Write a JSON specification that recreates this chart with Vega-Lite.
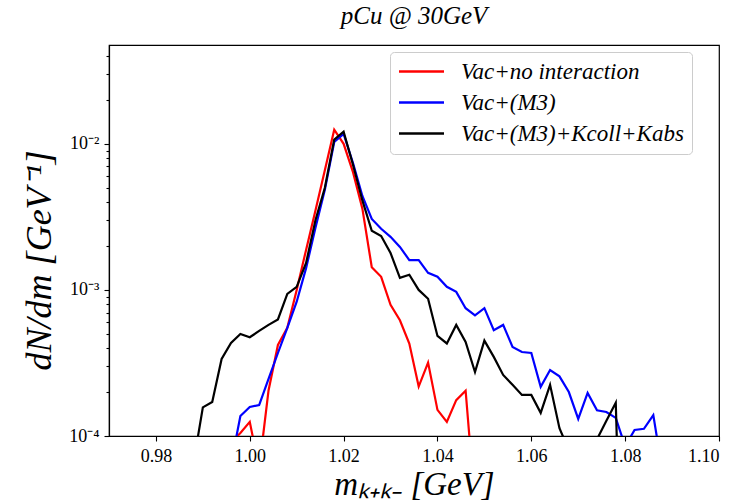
{
  "$schema": "https://vega.github.io/schema/vega-lite/v6.json",
  "width": 610,
  "height": 391,
  "autosize": {"type": "none"},
  "padding": {"left": 109, "top": 45, "right": 17, "bottom": 66},
  "background": "white",
  "title": {"text": "pCu @ 30GeV", "font": "Liberation Serif", "fontStyle": "italic", "fontWeight": "normal", "fontSize": 25, "color": "black", "anchor": "middle", "frame": "group", "baseline": "bottom", "offset": -9},
  "data": {"values": [
    {"m": 0.996, "v": 0.00009, "s": "Vac+no interaction"},
    {"m": 0.998, "v": 0.000105, "s": "Vac+no interaction"},
    {"m": 1.000, "v": 0.000125, "s": "Vac+no interaction"},
    {"m": 1.002, "v": 0.00006, "s": "Vac+no interaction"},
    {"m": 1.004, "v": 0.000205, "s": "Vac+no interaction"},
    {"m": 1.006, "v": 0.00042, "s": "Vac+no interaction"},
    {"m": 1.008, "v": 0.00055, "s": "Vac+no interaction"},
    {"m": 1.010, "v": 0.0010, "s": "Vac+no interaction"},
    {"m": 1.012, "v": 0.00188, "s": "Vac+no interaction"},
    {"m": 1.014, "v": 0.0035, "s": "Vac+no interaction"},
    {"m": 1.016, "v": 0.0066, "s": "Vac+no interaction"},
    {"m": 1.018, "v": 0.0125, "s": "Vac+no interaction"},
    {"m": 1.020, "v": 0.0100, "s": "Vac+no interaction"},
    {"m": 1.022, "v": 0.0064, "s": "Vac+no interaction"},
    {"m": 1.024, "v": 0.0036, "s": "Vac+no interaction"},
    {"m": 1.026, "v": 0.00143, "s": "Vac+no interaction"},
    {"m": 1.028, "v": 0.00123, "s": "Vac+no interaction"},
    {"m": 1.030, "v": 0.00079, "s": "Vac+no interaction"},
    {"m": 1.032, "v": 0.00062, "s": "Vac+no interaction"},
    {"m": 1.034, "v": 0.00043, "s": "Vac+no interaction"},
    {"m": 1.036, "v": 0.000218, "s": "Vac+no interaction"},
    {"m": 1.038, "v": 0.000318, "s": "Vac+no interaction"},
    {"m": 1.040, "v": 0.000151, "s": "Vac+no interaction"},
    {"m": 1.042, "v": 0.000125, "s": "Vac+no interaction"},
    {"m": 1.044, "v": 0.000176, "s": "Vac+no interaction"},
    {"m": 1.046, "v": 0.000204, "s": "Vac+no interaction"},
    {"m": 1.048, "v": 0.000034, "s": "Vac+no interaction"},

    {"m": 0.996, "v": 0.000064, "s": "Vac+(M3)"},
    {"m": 0.998, "v": 0.000137, "s": "Vac+(M3)"},
    {"m": 1.000, "v": 0.000158, "s": "Vac+(M3)"},
    {"m": 1.002, "v": 0.000163, "s": "Vac+(M3)"},
    {"m": 1.004, "v": 0.000246, "s": "Vac+(M3)"},
    {"m": 1.006, "v": 0.00037, "s": "Vac+(M3)"},
    {"m": 1.008, "v": 0.00055, "s": "Vac+(M3)"},
    {"m": 1.010, "v": 0.00083, "s": "Vac+(M3)"},
    {"m": 1.012, "v": 0.00141, "s": "Vac+(M3)"},
    {"m": 1.014, "v": 0.00266, "s": "Vac+(M3)"},
    {"m": 1.016, "v": 0.00484, "s": "Vac+(M3)"},
    {"m": 1.018, "v": 0.0103, "s": "Vac+(M3)"},
    {"m": 1.020, "v": 0.0117, "s": "Vac+(M3)"},
    {"m": 1.022, "v": 0.0074, "s": "Vac+(M3)"},
    {"m": 1.024, "v": 0.0044, "s": "Vac+(M3)"},
    {"m": 1.026, "v": 0.00306, "s": "Vac+(M3)"},
    {"m": 1.028, "v": 0.00262, "s": "Vac+(M3)"},
    {"m": 1.030, "v": 0.00231, "s": "Vac+(M3)"},
    {"m": 1.032, "v": 0.00197, "s": "Vac+(M3)"},
    {"m": 1.034, "v": 0.0016, "s": "Vac+(M3)"},
    {"m": 1.036, "v": 0.0016, "s": "Vac+(M3)"},
    {"m": 1.038, "v": 0.00131, "s": "Vac+(M3)"},
    {"m": 1.040, "v": 0.00123, "s": "Vac+(M3)"},
    {"m": 1.042, "v": 0.00105, "s": "Vac+(M3)"},
    {"m": 1.044, "v": 0.00097, "s": "Vac+(M3)"},
    {"m": 1.046, "v": 0.00075, "s": "Vac+(M3)"},
    {"m": 1.048, "v": 0.00067, "s": "Vac+(M3)"},
    {"m": 1.050, "v": 0.00075, "s": "Vac+(M3)"},
    {"m": 1.052, "v": 0.00053, "s": "Vac+(M3)"},
    {"m": 1.054, "v": 0.000576, "s": "Vac+(M3)"},
    {"m": 1.056, "v": 0.000407, "s": "Vac+(M3)"},
    {"m": 1.058, "v": 0.000376, "s": "Vac+(M3)"},
    {"m": 1.060, "v": 0.00037, "s": "Vac+(M3)"},
    {"m": 1.062, "v": 0.000217, "s": "Vac+(M3)"},
    {"m": 1.064, "v": 0.000283, "s": "Vac+(M3)"},
    {"m": 1.066, "v": 0.000256, "s": "Vac+(M3)"},
    {"m": 1.068, "v": 0.0002, "s": "Vac+(M3)"},
    {"m": 1.070, "v": 0.000131, "s": "Vac+(M3)"},
    {"m": 1.072, "v": 0.000197, "s": "Vac+(M3)"},
    {"m": 1.074, "v": 0.00015, "s": "Vac+(M3)"},
    {"m": 1.076, "v": 0.000146, "s": "Vac+(M3)"},
    {"m": 1.078, "v": 0.000133, "s": "Vac+(M3)"},
    {"m": 1.080, "v": 0.000085, "s": "Vac+(M3)"},
    {"m": 1.082, "v": 0.00011, "s": "Vac+(M3)"},
    {"m": 1.084, "v": 0.000112, "s": "Vac+(M3)"},
    {"m": 1.086, "v": 0.000139, "s": "Vac+(M3)"},
    {"m": 1.088, "v": 0.000056, "s": "Vac+(M3)"},

    {"m": 0.988, "v": 0.000065, "s": "Vac+(M3)+Kcoll+Kabs"},
    {"m": 0.990, "v": 0.000157, "s": "Vac+(M3)+Kcoll+Kabs"},
    {"m": 0.992, "v": 0.000171, "s": "Vac+(M3)+Kcoll+Kabs"},
    {"m": 0.994, "v": 0.000337, "s": "Vac+(M3)+Kcoll+Kabs"},
    {"m": 0.996, "v": 0.000434, "s": "Vac+(M3)+Kcoll+Kabs"},
    {"m": 0.998, "v": 0.0005, "s": "Vac+(M3)+Kcoll+Kabs"},
    {"m": 1.000, "v": 0.000474, "s": "Vac+(M3)+Kcoll+Kabs"},
    {"m": 1.002, "v": 0.000524, "s": "Vac+(M3)+Kcoll+Kabs"},
    {"m": 1.004, "v": 0.000576, "s": "Vac+(M3)+Kcoll+Kabs"},
    {"m": 1.006, "v": 0.000628, "s": "Vac+(M3)+Kcoll+Kabs"},
    {"m": 1.008, "v": 0.00094, "s": "Vac+(M3)+Kcoll+Kabs"},
    {"m": 1.010, "v": 0.00105, "s": "Vac+(M3)+Kcoll+Kabs"},
    {"m": 1.012, "v": 0.00153, "s": "Vac+(M3)+Kcoll+Kabs"},
    {"m": 1.014, "v": 0.003, "s": "Vac+(M3)+Kcoll+Kabs"},
    {"m": 1.016, "v": 0.005, "s": "Vac+(M3)+Kcoll+Kabs"},
    {"m": 1.018, "v": 0.0107, "s": "Vac+(M3)+Kcoll+Kabs"},
    {"m": 1.020, "v": 0.0121, "s": "Vac+(M3)+Kcoll+Kabs"},
    {"m": 1.022, "v": 0.0072, "s": "Vac+(M3)+Kcoll+Kabs"},
    {"m": 1.024, "v": 0.0041, "s": "Vac+(M3)+Kcoll+Kabs"},
    {"m": 1.026, "v": 0.00254, "s": "Vac+(M3)+Kcoll+Kabs"},
    {"m": 1.028, "v": 0.00234, "s": "Vac+(M3)+Kcoll+Kabs"},
    {"m": 1.030, "v": 0.00179, "s": "Vac+(M3)+Kcoll+Kabs"},
    {"m": 1.032, "v": 0.00121, "s": "Vac+(M3)+Kcoll+Kabs"},
    {"m": 1.034, "v": 0.00127, "s": "Vac+(M3)+Kcoll+Kabs"},
    {"m": 1.036, "v": 0.001, "s": "Vac+(M3)+Kcoll+Kabs"},
    {"m": 1.038, "v": 0.00087, "s": "Vac+(M3)+Kcoll+Kabs"},
    {"m": 1.040, "v": 0.000484, "s": "Vac+(M3)+Kcoll+Kabs"},
    {"m": 1.042, "v": 0.00043, "s": "Vac+(M3)+Kcoll+Kabs"},
    {"m": 1.044, "v": 0.000576, "s": "Vac+(M3)+Kcoll+Kabs"},
    {"m": 1.046, "v": 0.00044, "s": "Vac+(M3)+Kcoll+Kabs"},
    {"m": 1.048, "v": 0.000274, "s": "Vac+(M3)+Kcoll+Kabs"},
    {"m": 1.050, "v": 0.00045, "s": "Vac+(M3)+Kcoll+Kabs"},
    {"m": 1.052, "v": 0.000348, "s": "Vac+(M3)+Kcoll+Kabs"},
    {"m": 1.054, "v": 0.000262, "s": "Vac+(M3)+Kcoll+Kabs"},
    {"m": 1.056, "v": 0.000224, "s": "Vac+(M3)+Kcoll+Kabs"},
    {"m": 1.058, "v": 0.000191, "s": "Vac+(M3)+Kcoll+Kabs"},
    {"m": 1.060, "v": 0.000191, "s": "Vac+(M3)+Kcoll+Kabs"},
    {"m": 1.062, "v": 0.000144, "s": "Vac+(M3)+Kcoll+Kabs"},
    {"m": 1.064, "v": 0.000224, "s": "Vac+(M3)+Kcoll+Kabs"},
    {"m": 1.066, "v": 0.000113, "s": "Vac+(M3)+Kcoll+Kabs"},
    {"m": 1.068, "v": 0.00008, "s": "Vac+(M3)+Kcoll+Kabs"},
    {"m": 1.070, "v": 0.00003, "s": "Vac+(M3)+Kcoll+Kabs"},
    {"m": 1.072, "v": 0.00003, "s": "Vac+(M3)+Kcoll+Kabs"},
    {"m": 1.074, "v": 0.000095, "s": "Vac+(M3)+Kcoll+Kabs"},
    {"m": 1.076, "v": 0.000127, "s": "Vac+(M3)+Kcoll+Kabs"},
    {"m": 1.078, "v": 0.000169, "s": "Vac+(M3)+Kcoll+Kabs"},
    {"m": 1.080, "v": 0.000001, "s": "Vac+(M3)+Kcoll+Kabs"}
  ]},
  "mark": {"type": "line", "clip": true, "strokeWidth": 2.2},
  "encoding": {
    "x": {
      "field": "m", "type": "quantitative",
      "scale": {"domain": [0.97, 1.10], "nice": false, "zero": false},
      "axis": {
        "title": "mₖ₊ₖ₋ [GeV]",
        "values": [0.98, 1.00, 1.02, 1.04, 1.06, 1.08, 1.10],
        "format": ".2f",
        "labelFont": "Liberation Serif", "labelFontSize": 18, "labelColor": "black", "labelPadding": 6,
        "tickSize": 5,
        "titleFont": "Liberation Serif", "titleFontStyle": "italic", "titleFontWeight": "normal", "titleFontSize": 33,
        "titleBaseline": "middle", "titleY": 48, "titleColor": "black"
      }
    },
    "y": {
      "field": "v", "type": "quantitative",
      "scale": {"type": "log", "domain": [0.0001, 0.0475], "nice": false},
      "axis": {
        "title": "dN/dm [GeV⁻¹]",
        "values": [0.0001, 0.0002, 0.0003, 0.0004, 0.0005, 0.0006, 0.0007, 0.0008, 0.0009, 0.001, 0.002, 0.003, 0.004, 0.005, 0.006, 0.007, 0.008, 0.009, 0.01, 0.02, 0.03, 0.04],
        "labelExpr": "datum.value == 0.01 ? '10⁻²' : datum.value == 0.001 ? '10⁻³' : datum.value == 0.0001 ? '10⁻⁴' : ''",
        "labelOverlap": false,
        "labelFont": "Liberation Serif", "labelFontSize": 18, "labelColor": "black", "labelPadding": 5,
        "tickSize": {"condition": {"test": "datum.value == 0.01 || datum.value == 0.001 || datum.value == 0.0001", "value": 5}, "value": 3},
        "titleFont": "Liberation Serif", "titleFontStyle": "italic", "titleFontWeight": "normal", "titleFontSize": 36,
        "titleAngle": -90, "titleBaseline": "middle", "titleX": -70, "titleY": 215, "titleColor": "black"
      }
    },
    "color": {
      "field": "s", "type": "nominal",
      "scale": {"domain": ["Vac+no interaction", "Vac+(M3)", "Vac+(M3)+Kcoll+Kabs"], "range": ["#ff0000", "#0000ff", "#000000"]},
      "legend": {
        "title": null, "orient": "none", "legendX": 281, "legendY": 7,
        "strokeColor": "#cccccc", "fillColor": "white", "cornerRadius": 4, "padding": 8,
        "symbolType": "M-2.25,0H2.25", "symbolSize": 400, "symbolStrokeWidth": 2.5, "symbolOffset": 12,
        "labelFont": "Liberation Serif", "labelFontStyle": "italic", "labelFontSize": 23, "labelColor": "black",
        "labelLimit": 500, "labelOffset": 28, "rowPadding": 7
      }
    }
  },
  "config": {
    "view": {"stroke": "black", "strokeWidth": 1.2},
    "axis": {
      "grid": false, "domainColor": "black", "domainWidth": 1.2, "tickColor": "black", "tickWidth": 1.1
    }
  }
}
